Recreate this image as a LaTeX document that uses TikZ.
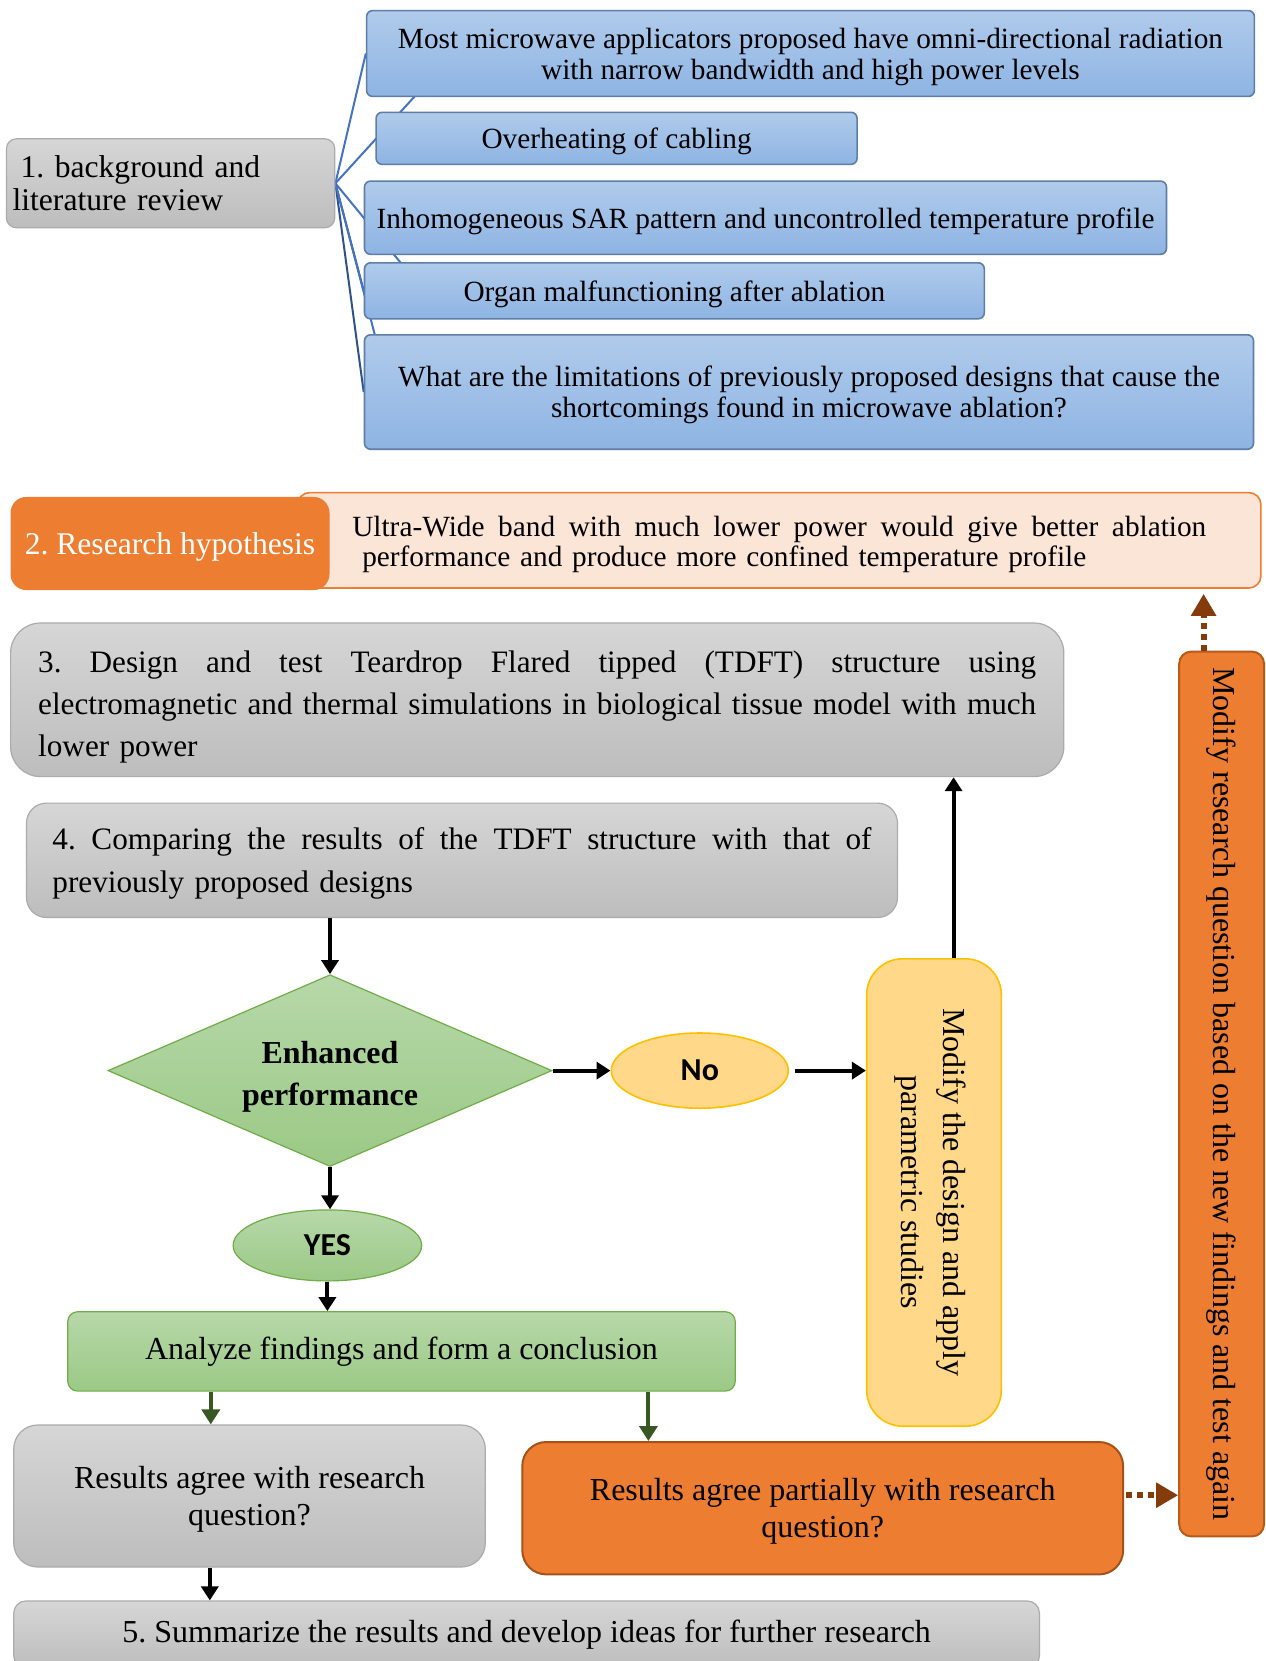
\documentclass[tikz,border=0pt]{standalone}
\usepackage{fontspec}
\setmainfont{Liberation Serif}
\newfontfamily\calibfont{Carlito}
\usetikzlibrary{shapes.geometric,arrows.meta,calc,backgrounds}
\frenchspacing

\newcommand{\justline}[2]{\makebox[#1][s]{\spaceskip=0.25em plus 1fil\relax #2}}

\definecolor{bluetop}{HTML}{B0CBEB}
\definecolor{bluebot}{HTML}{8EB4E3}
\definecolor{blueedge}{HTML}{5E7EA8}
\definecolor{branchblue}{HTML}{4472C4}
\definecolor{branchdark}{HTML}{2F528F}
\definecolor{graytop}{HTML}{D6D6D6}
\definecolor{graybot}{HTML}{BDBDBD}
\definecolor{grayedge}{HTML}{ABABAB}
\definecolor{greentop}{HTML}{B7D8A9}
\definecolor{greenbot}{HTML}{9BC986}
\definecolor{greenedge}{HTML}{70AD47}
\definecolor{yellowfill}{HTML}{FFD88A}
\definecolor{yellowedge}{HTML}{FFC000}
\definecolor{orangefill}{HTML}{ED7D31}
\definecolor{orangeedge}{HTML}{B85A1C}
\definecolor{peachfill}{HTML}{FBE5D6}
\definecolor{brownarrow}{HTML}{843C0C}
\definecolor{darkgreen}{HTML}{385723}

\begin{document}
\begin{tikzpicture}[x=0.5pt, y=-0.5pt,
        bluebox/.style={draw=blueedge, line width=0.8pt, top color=bluetop, bottom color=bluebot,
            rounded corners=3pt, inner sep=0pt, align=center, text depth=0pt,
            font=\fontsize{14.65}{15.4}\selectfont},
        graybox/.style={draw=grayedge, line width=0.6pt, top color=graytop, bottom color=graybot,
            inner sep=0pt, align=center, font=\fontsize{16}{18.5}\selectfont},
        greenbox/.style={draw=greenedge, line width=0.6pt, top color=greentop, bottom color=greenbot,
            inner sep=0pt, align=center, font=\fontsize{16}{21.2}\selectfont},
        orangebox/.style={draw=orangeedge, line width=1pt, fill=orangefill, inner sep=0pt,
            align=center, font=\fontsize{16}{18.5}\selectfont},
        branch/.style={draw=branchblue, line width=1pt},
        arr/.style={line width=2pt, -{Triangle[length=7pt, width=8.5pt]}},
        greenarr/.style={draw=darkgreen, line width=2pt, -{Triangle[length=7.5pt, width=9pt]}},
        brownarr/.style={draw=brownarrow, line width=3pt, dash pattern=on 3pt off 2.5pt,
            -{Triangle[length=11pt, width=12pt]}}]
\useasboundingbox (0,0) rectangle (1265,1661);

\node[graybox, rounded corners=5pt, minimum width=164.2pt, minimum height=44.5pt, text width=158pt,
    align=left, font=\fontsize{15.8}{16.4}\selectfont] (lit) at (170.6,183.3)
    {\hspace*{4pt}1. background and\\literature review};

\node[bluebox, minimum width=443.9pt, minimum height=42.9pt] (omni) at (810.5,53.5)
    {Most microwave applicators proposed have omni-directional radiation\\with narrow bandwidth and high power levels};
\node[bluebox, minimum width=240.5pt, minimum height=26pt] (cable) at (616.6,138.3) {Overheating of cabling};
\node[bluebox, minimum width=401pt, minimum height=36.6pt] (sar) at (765.5,217.7)
    {Inhomogeneous SAR pattern and uncontrolled temperature profile};
\node[bluebox, minimum width=309.9pt, minimum height=28pt] (organ) at (674.4,290.8) {Organ malfunctioning after ablation};
\node[bluebox, minimum width=444.5pt, minimum height=57.2pt] (limits) at (809,392)
    {What are the limitations of previously proposed designs that cause the\\shortcomings found in microwave ablation?};

\begin{scope}[on background layer]
    \draw[branch] (lit.east) -- (omni.west);
    \draw[branch] (lit.east) -- ($(omni.west)+(88,0)$);
    \draw[branch] (lit.east) -- ($(organ.west)+(60,0)$);
    \draw[branch, draw=branchdark] (lit.east) -- (organ.west);
    \draw[branch, draw=branchdark] (lit.east) -- (limits.west);
    \draw[branch] (lit.east) -- ($(limits.west)+(26,0)$);
\end{scope}

\node[draw=orangefill, line width=0.8pt, fill=peachfill, rounded corners=6pt, minimum width=481.6pt,
    minimum height=47.7pt, text width=427pt, align=left, inner sep=0pt, text height=10.1pt, text depth=13.8pt,
    font=\fontsize{14.65}{14.8}\selectfont] (claim) at (779.3,540.3)
    {\justline{427pt}{Ultra-Wide band with much lower power would give better ablation}\\
     \hspace*{5pt}performance and produce more confined temperature profile};
\node[fill=orangefill, rounded corners=8pt, minimum width=159.5pt, minimum height=46.6pt, inner sep=0pt,
    text=white, text depth=0pt, font=\fontsize{15.8}{18}\selectfont] (hypo) at (170,543.5) {2. Research hypothesis};

\node[graybox, rounded corners=15pt, minimum width=526.6pt, minimum height=76.8pt, text width=499pt,
    align=left, text height=10.8pt, text depth=38.6pt, font=\fontsize{15.6}{21.2}\selectfont] (design) at (537.2,699.8)
    {\justline{499pt}{3. Design and test Teardrop Flared tipped (TDFT) structure using}\\
     \justline{499pt}{electromagnetic and thermal simulations in biological tissue model with much}\\
     lower power};
\node[graybox, rounded corners=10pt, minimum width=435.5pt, minimum height=57.2pt, text width=409.5pt,
    align=left, text height=10.8pt, text depth=21.4pt, font=\fontsize{15.6}{21.2}\selectfont] (compare) at (462,860.3)
    {\justline{409.5pt}{4. Comparing the results of the TDFT structure with that of}\\
     previously proposed designs};

\node[diamond, greenbox, aspect=2.3, minimum width=222pt, minimum height=95.9pt, inner sep=1pt,
    text height=35.2pt, text depth=0pt, font=\bfseries\fontsize{16}{21.2}\selectfont] (enh) at (330,1070.6)
    {Enhanced\\performance};
\node[ellipse, draw=yellowedge, line width=0.8pt, fill=yellowfill, minimum width=88.5pt, minimum height=37.6pt,
    inner sep=0pt, font=\calibfont\bfseries\fontsize{16}{18}\selectfont] (no) at (699.8,1070.6) {No};
\node[draw=yellowedge, line width=0.8pt, fill=yellowfill, rounded corners=18pt, rotate=-90,
    minimum width=233.7pt, minimum height=67.3pt, inner sep=0pt, align=center, text depth=0pt,
    font=\fontsize{16}{21}\selectfont] (param) at (934,1192.5) {Modify the design and apply\\parametric studies};
\node[ellipse, greenbox, minimum width=94.3pt, minimum height=35.5pt,
    font=\calibfont\bfseries\fontsize{16}{18}\selectfont] (yes) at (327.4,1245.4) {YES};
\node[greenbox, rounded corners=5pt, minimum width=333.8pt, minimum height=39.7pt] (analyze) at (401.5,1351.4)
    {Analyze findings and form a conclusion};

\node[graybox, rounded corners=12pt, minimum width=235.8pt, minimum height=71pt, text depth=0pt] (agree)
    at (249.5,1496) {Results agree with research\\question?};
\node[orangebox, draw=orangeedge!90!black, rounded corners=12pt, minimum width=300.4pt, minimum height=66.2pt,
    text depth=0pt] (partial) at (822.7,1508.2) {Results agree partially with research\\question?};
\node[graybox, rounded corners=6pt, minimum width=512.8pt, minimum height=33.5pt] (summary) at (526.6,1634.5)
    {5. Summarize the results and develop ideas for further research};
\node[orangebox, rounded corners=6pt, rotate=-90, minimum width=442.4pt, minimum height=42.4pt]
    (rethink) at (1221.6,1094) {Modify research question based on the new findings and test again};

\draw[arr] (enh.north |- compare.south) -- (enh.north);
\draw[arr] (enh.east) -- (no.west);
\draw[arr] ([xshift=3pt]no.east) -- (no.east -| param.south);
\path ([xshift=9.8pt]param.west) coordinate (upfoot);
\draw[arr] (upfoot) -- (upfoot |- design.south);
\draw[arr] (enh.south) -- (enh.south |- yes.north);
\draw[arr] (yes.south) -- (yes.south |- analyze.north);

\path ($(agree.north)+(-38.7,0)$) coordinate (agreein);
\path ($(partial.north)+(-174.3,0)$) coordinate (partialin);
\draw[greenarr] (agreein |- analyze.south) -- (agreein);
\draw[greenarr] (partialin |- analyze.south) -- (partialin);
\path ($(agree.south)+(-39.7,0)$) coordinate (agreeout);
\draw[arr] (agreeout) -- (agreeout |- summary.north);

\path ($(partial.east)+(0,-13)$) coordinate (partialout);
\draw[brownarr] ([xshift=1pt]partialout) -- (partialout -| rethink.south);
\path ($(rethink.west)+(-18,0)$) coordinate (rethinkout);
\draw[brownarr, shorten >=2.5pt] (rethinkout) -- (rethinkout |- claim.south);
\end{tikzpicture}
\end{document}
